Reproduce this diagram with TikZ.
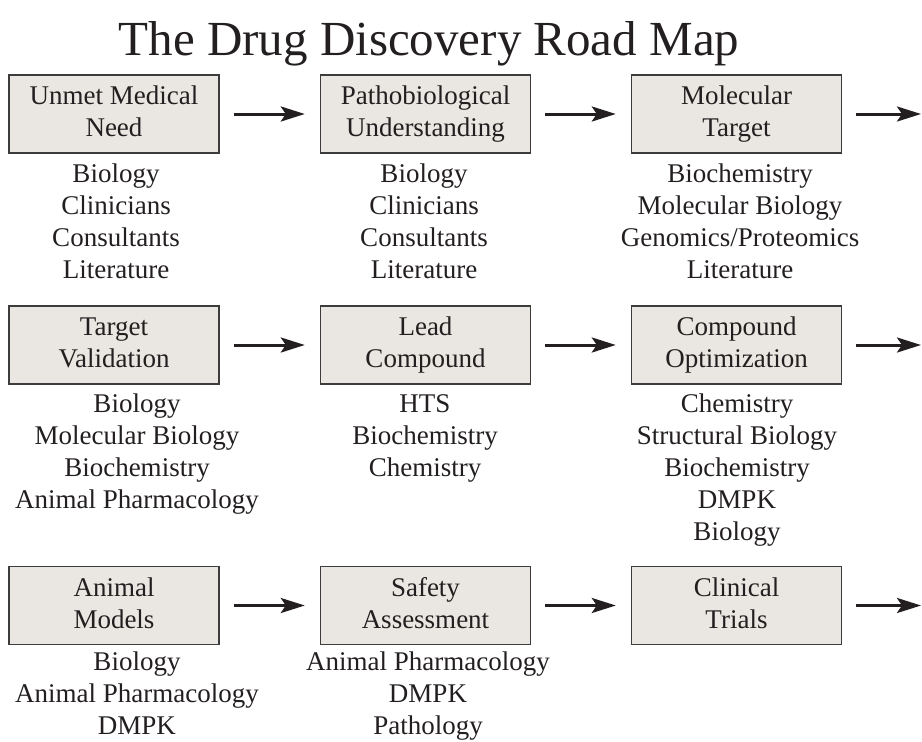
\documentclass[tikz,border=0pt]{standalone}
\usepackage{fontspec}
\setmainfont{Liberation Serif}
\usetikzlibrary{arrows.meta}
\definecolor{boxfill}{RGB}{234,231,226}
\definecolor{boxline}{RGB}{60,60,60}
\definecolor{ink}{RGB}{35,31,32}
\newcommand{\bxt}[2]{\rule{0pt}{19pt}#1\\#2\rule[-6pt]{0pt}{6pt}}
\newcommand{\lst}{\rule{0pt}{20pt}}
\begin{document}
\begin{tikzpicture}[x=1pt,y=-1pt,
  stepbox/.style={draw=boxline, fill=boxfill, line width=1.4pt, minimum width=210pt, minimum height=78pt, inner sep=0pt, align=center, font=\fontsize{27}{32}\selectfont, text=ink},
  skills/.style={anchor=north, inner sep=0pt, align=center, font=\fontsize{27}{32}\selectfont, text=ink},
  flow/.style={line width=3pt, draw=ink, -{Stealth[length=24pt,width=15pt,inset=5pt]}}]
\useasboundingbox (0,0) rectangle (922,742);

\node[font=\fontsize{49}{56}\selectfont, text=ink, anchor=base, inner sep=0pt] (title) at (429,55) {The Drug Discovery Road Map};

% row 1
\node[stepbox] (b11) at (114,114) {\bxt{Unmet Medical}{Need}};
\node[stepbox] (b12) at (425.5,114) {\bxt{Pathobiological}{Understanding}};
\node[stepbox] (b13) at (736.5,114) {\bxt{Molecular}{Target}};
% row 2
\node[stepbox] (b21) at (114,345) {\bxt{Target}{Validation}};
\node[stepbox] (b22) at (425.5,345) {\bxt{Lead}{Compound}};
\node[stepbox] (b23) at (736.5,345) {\bxt{Compound}{Optimization}};
% row 3
\node[stepbox] (b31) at (114,605.5) {\bxt{Animal}{Models}};
\node[stepbox] (b32) at (425.5,605.5) {\bxt{Safety}{Assessment}};
\node[stepbox] (b33) at (736.5,605.5) {\bxt{Clinical}{Trials}};

% skill lists
\node[skills] (s11) at (116,162) {\lst Biology\\Clinicians\\Consultants\\Literature};
\node[skills] (s12) at (424,162) {\lst Biology\\Clinicians\\Consultants\\Literature};
\node[skills] (s13) at (740,162) {\lst Biochemistry\\Molecular Biology\\Genomics/Proteomics\\Literature};
\node[skills] (s21) at (137,392) {\lst Biology\\Molecular Biology\\Biochemistry\\Animal Pharmacology};
\node[skills] (s22) at (425,392) {\lst HTS\\Biochemistry\\Chemistry};
\node[skills] (s23) at (737,392) {\lst Chemistry\\Structural Biology\\Biochemistry\\DMPK\\Biology};
\node[skills] (s31) at (137,650) {\lst Biology\\Animal Pharmacology\\DMPK};
\node[skills] (s32) at (428,650) {\lst Animal Pharmacology\\DMPK\\Pathology};

% free ends
\coordinate (e1) at (921,114);
\coordinate (e2) at (921,345);
\coordinate (e3) at (921,605.5);

% arrows
\draw[flow] ([xshift=14pt]b11.east) -- ([xshift=-15pt]b12.west);
\draw[flow] ([xshift=14pt]b12.east) -- ([xshift=-15pt]b13.west);
\draw[flow] ([xshift=14pt]b13.east) -- (e1);
\draw[flow] ([xshift=14pt]b21.east) -- ([xshift=-15pt]b22.west);
\draw[flow] ([xshift=14pt]b22.east) -- ([xshift=-15pt]b23.west);
\draw[flow] ([xshift=14pt]b23.east) -- (e2);
\draw[flow] ([xshift=14pt]b31.east) -- ([xshift=-15pt]b32.west);
\draw[flow] ([xshift=14pt]b32.east) -- ([xshift=-15pt]b33.west);
\draw[flow] ([xshift=14pt]b33.east) -- (e3);
\end{tikzpicture}
\end{document}
